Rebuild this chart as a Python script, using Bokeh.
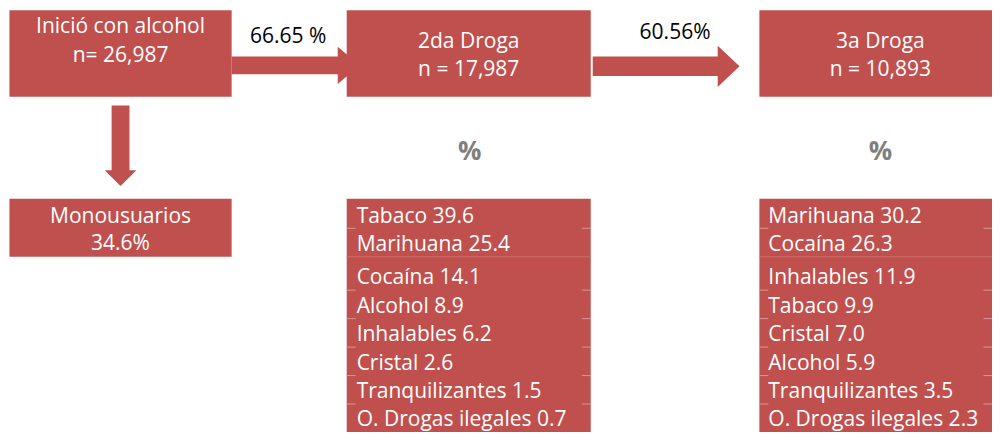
from bokeh.plotting import figure
from bokeh.models import Range1d
from bokeh.core.properties import value
from bokeh.embed import file_html
from bokeh.resources import INLINE

# ---------------- data ----------------
stage_titles = ["Inició con alcohol", "2da Droga", "3a Droga"]
stage_n = ["n= 26,987", "n = 17,987", "n = 10,893"]
transition_pct = ["66.65 %", "60.56%"]
mono_label = "Monousuarios"
mono_pct = "34.6%"
drugs_2 = ["Tabaco", "Marihuana", "Cocaína", "Alcohol", "Inhalables", "Cristal",
           "Tranquilizantes", "O. Drogas ilegales"]
pct_2 = [39.6, 25.4, 14.1, 8.9, 6.2, 2.6, 1.5, 0.7]
drugs_3 = ["Marihuana", "Cocaína", "Inhalables", "Tabaco", "Cristal", "Alcohol",
           "Tranquilizantes", "O. Drogas ilegales"]
pct_3 = [30.2, 26.3, 11.9, 9.9, 7.0, 5.9, 3.5, 2.3]

# ---------------- layout ----------------
RED = "#C0504D"
FONT = value("Open Sans")
FS = "21px"
box_left = [9, 349, 765]
box_right = [233, 595, 1010]
box_top, box_bottom = 10, 98

p = figure(width=992, height=432, x_range=Range1d(0, 1000), y_range=Range1d(440, 0),
           output_backend="svg", toolbar_location=None, min_border=0)
p.axis.visible = False
p.grid.visible = False
p.outline_line_color = None
p.background_fill_color = "white"

# arrows (drawn first, boxes overlap them)
p.quad(left=[233, 597], right=[342, 724], top=[57, 57], bottom=[75, 77],
       fill_color=RED, line_color=None)
p.patches(xs=[[340, 362, 340], [723, 745, 723]], ys=[[47, 66, 85], [46, 67, 88]],
          fill_color=RED, line_color=None)
# down arrow
p.quad(left=[112], right=[130], top=[107], bottom=[174], fill_color=RED, line_color=None)
p.patch(x=[105, 137, 121], y=[173, 173, 189], fill_color=RED, line_color=None)

# top stage boxes
p.quad(left=box_left, right=box_right, top=[box_top] * 3, bottom=[box_bottom] * 3,
       fill_color=RED, line_color=None)
title_y = [25, 40, 40]
n_y = [54, 69, 69]
cx = [121, 472, 887]
p.text(x=cx, y=title_y, text=stage_titles, text_font=FONT, text_font_size=FS,
       text_color="white", text_align="center", text_baseline="middle")
p.text(x=cx, y=n_y, text=stage_n, text_font=FONT, text_font_size=FS,
       text_color="white", text_align="center", text_baseline="middle")

# transition percentages
p.text(x=[290, 680], y=[35, 31], text=transition_pct, text_font=FONT, text_font_size=FS,
       text_color="black", text_align="center", text_baseline="middle")

# monousuarios box
p.quad(left=[9], right=[233], top=[202], bottom=[261], fill_color=RED, line_color=None)
p.text(x=[121, 121], y=[218, 246], text=[mono_label, mono_pct], text_font=FONT,
       text_font_size=FS, text_color="white", text_align="center", text_baseline="middle")

# "%" headers
p.text(x=[473, 887], y=[152, 152], text=["%", "%"], text_font=FONT, text_font_size="26px",
       text_font_style="bold", text_color="#7F7F7F", text_align="center", text_baseline="middle")

# list boxes
p.quad(left=[349, 765], right=[595, 1010], top=[202, 202], bottom=[445, 445],
       fill_color=RED, line_color=None)
row_y = [218, 247, 281, 310, 339, 368, 397, 425]
p.text(x=[359] * len(drugs_2), y=row_y, text=[f"{d} {v:.1f}" for d, v in zip(drugs_2, pct_2)],
       text_font=FONT, text_font_size=FS, text_color="white", text_baseline="middle")
p.text(x=[774] * len(drugs_3), y=row_y, text=[f"{d} {v:.1f}" for d, v in zip(drugs_3, pct_3)],
       text_font=FONT, text_font_size=FS, text_color="white", text_baseline="middle")

# row separators (faint)
p.segment(x0=[349, 765], x1=[595, 1000], y0=[261, 261], y1=[261, 261],
          line_color="#CC6C69", line_width=1)
sep_y = [232, 295, 324, 353, 382, 411]
xs0, xs1, ys = [], [], []
for yy in sep_y:
    for l, r in [(349, 595), (765, 1000)]:
        xs0 += [l, r - 9]
        xs1 += [l + 9, r]
        ys += [yy, yy]
p.segment(x0=xs0, x1=xs1, y0=ys, y1=ys, line_color="#D99694", line_width=1)

open("out.html", "w").write(file_html(p, INLINE))
